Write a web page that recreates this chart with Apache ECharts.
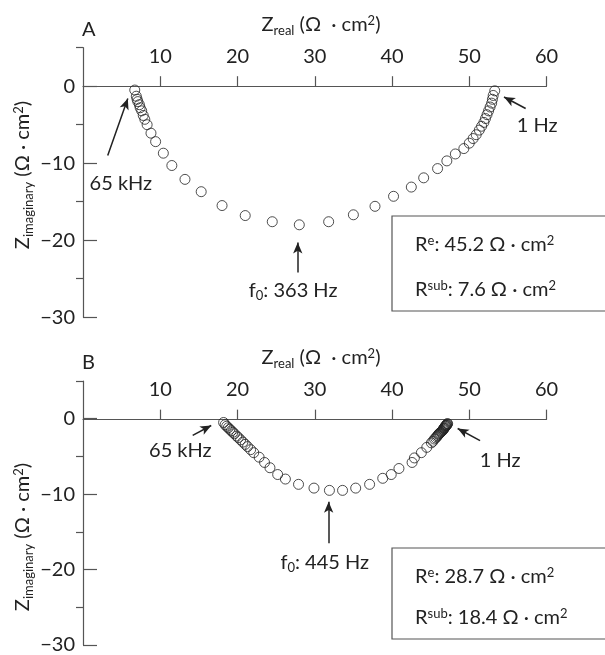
<!DOCTYPE html>
<html>
<head>
<meta charset="utf-8">
<script src="https://cdn.jsdelivr.net/npm/echarts@6/dist/echarts.min.js"></script>
<style>
  html, body { margin: 0; padding: 0; background: #fff; }
  #chart { width: 605px; height: 655px; }
</style>
</head>
<body>
<div id="chart"></div>
<script>
// panel A: Nyquist points [Zreal, Zimag]
var pointsA = [[6.7,-0.5],[6.9,-1.3],[7.0,-1.7],[7.1,-2.0],[7.3,-2.4],[7.4,-2.8],[7.6,-3.2],[7.8,-3.8],[8.0,-4.3],[8.3,-5.0],[8.8,-6.1],[9.4,-7.2],[10.4,-8.7],[11.5,-10.3],[13.2,-12.1],[15.3,-13.7],[18.0,-15.5],[21.0,-16.8],[24.5,-17.6],[28.0,-18.0],[31.8,-17.6],[35.0,-16.7],[37.8,-15.6],[40.2,-14.3],[42.5,-13.1],[44.1,-11.9],[45.9,-10.7],[47.1,-9.7],[48.2,-8.8],[49.3,-8.1],[50.0,-7.4],[50.5,-6.8],[50.9,-6.3],[51.3,-5.7],[51.6,-5.2],[51.9,-4.7],[52.1,-4.2],[52.3,-3.7],[52.5,-3.2],[52.7,-2.7],[52.9,-2.2],[53.0,-1.7],[53.1,-1.2],[53.3,-0.6]];
// panel B
var pointsB = [[18.2,-0.5],[18.4,-0.8],[18.6,-1.0],[18.8,-1.2],[19.0,-1.4],[19.2,-1.6],[19.4,-1.8],[19.6,-2.0],[19.9,-2.3],[20.1,-2.5],[20.4,-2.8],[20.7,-3.1],[21.0,-3.4],[21.3,-3.7],[21.7,-4.1],[22.1,-4.5],[22.8,-5.1],[23.5,-5.8],[24.2,-6.5],[25.2,-7.4],[26.2,-8.0],[27.9,-8.7],[29.9,-9.2],[31.9,-9.5],[33.6,-9.5],[35.3,-9.2],[37.1,-8.7],[38.8,-7.9],[39.9,-7.4],[40.9,-6.6],[42.6,-5.8],[42.9,-5.2],[43.8,-4.5],[44.5,-3.8],[45.1,-3.2],[45.3,-3.0],[45.5,-2.7],[45.65,-2.55],[45.8,-2.4],[45.9,-2.25],[46.0,-2.1],[46.1,-2.0],[46.2,-1.9],[46.3,-1.8],[46.4,-1.7],[46.5,-1.6],[46.6,-1.5],[46.65,-1.4],[46.7,-1.3],[46.75,-1.25],[46.8,-1.2],[46.85,-1.1],[46.9,-1.0],[46.95,-0.95],[47.0,-0.9],[47.05,-0.85],[47.1,-0.8],[47.15,-0.7],[47.2,-0.65]];

var xTicks = [10, 20, 30, 40, 50, 60];
var yMajor = [-30, -20, -10, 0];
var yMinor = [-25, -15, -5, 5];

// annotation labels & arrows in data coords
var arrowsA = [[[3.2,-9.0],[5.8,-1.6]], [[57.3,-2.9],[54.5,-1.4]], [[27.8,-24.2],[27.8,-20.3]]];
var labelsA = [[4.9,-12.6,'65 kHz'], [58.8,-5.1,'1 Hz'], [27.2,-26.5,'f{sub|0}: 363 Hz']];
var arrowsB = [[[14.2,-2.2],[16.6,-0.9]], [[51.4,-2.9],[48.5,-1.3]], [[31.8,-16.5],[31.8,-11.0]]];
var labelsB = [[12.6,-4.2,'65 kHz'], [54.0,-5.6,'1 Hz'], [31.3,-19.1,'f{sub|0}: 445 Hz']];
var boxA = ['R{sup|e}: 45.2 Ω · cm{sup|2}', 'R{sup|sub}: 7.6 Ω · cm{sup|2}'];
var boxB = ['R{sup|e}: 28.7 Ω · cm{sup|2}', 'R{sup|sub}: 18.4 Ω · cm{sup|2}'];

var ink = '#222';
var font = 'Lato, "DejaVu Sans", sans-serif';
var fs = 20;
var rich = {
    sub: { fontSize: 13, fontFamily: font, color: ink, padding: [11, 0, 0, 0] },
    sup: { fontSize: 13, fontFamily: font, color: ink, padding: [0, 0, 9, 0] }
};

function minus(v) { return String(v).replace('-', '\u2212'); }

var grids = [
    { left: 83, top: 47.7, width: 463.5, height: 269.5 },
    { left: 83, top: 381, width: 463.5, height: 270.5 }
];
// distance from grid top (y = 5) down to the y = 0 line
var zeroOffset = [269.5 / 35 * 5, 270.5 / 35 * 5];

var xAxes = [], yAxes = [], series = [];
[0, 1].forEach(function (i) {
    xAxes.push({
        type: 'value', gridIndex: i, min: 0, max: 60, interval: 10, position: 'top',
        offset: -zeroOffset[i],
        axisLine: { onZero: false, lineStyle: { color: '#555', width: 1.2 } },
        axisTick: { customValues: xTicks, length: 10, lineStyle: { color: '#555', width: 1.2 } },
        axisLabel: { customValues: xTicks, margin: 20, fontSize: fs, fontFamily: font, color: ink },
        splitLine: { show: false }
    });
    yAxes.push({
        type: 'value', gridIndex: i, min: -30, max: 5, interval: 5,
        axisLine: { show: true, onZero: false, lineStyle: { color: '#555', width: 1.2 } },
        axisTick: { inside: true, customValues: yMajor, length: 14, lineStyle: { color: '#555', width: 1.2 } },
        axisLabel: { customValues: yMajor, margin: 8, fontSize: fs, fontFamily: font, color: ink, formatter: minus },
        splitLine: { show: false }
    });
    // minor ticks only
    yAxes.push({
        type: 'value', gridIndex: i, min: -30, max: 5, interval: 5,
        axisLine: { show: false },
        axisTick: { inside: true, customValues: yMinor, length: 7, lineStyle: { color: '#555', width: 1.2 } },
        axisLabel: { show: false },
        splitLine: { show: false }
    });
});

function makeSeries(i, pts, arrows, labels) {
    return {
        type: 'scatter', xAxisIndex: i, yAxisIndex: i * 2, data: pts,
        symbol: 'circle', symbolSize: 10,
        itemStyle: { color: 'rgba(0,0,0,0)', borderColor: ink, borderWidth: 1 },
        markLine: {
            silent: true, symbol: ['none', 'arrow'], symbolSize: [7, 11],
            lineStyle: { color: ink, width: 1.5, type: 'solid' },
            label: { show: false },
            data: arrows.map(function (a) { return [{ coord: a[0] }, { coord: a[1] }]; })
        },
        markPoint: {
            silent: true, symbol: 'rect', symbolSize: 0,
            label: { show: true, position: 'inside', fontSize: fs, fontFamily: font, color: ink, rich: rich },
            data: labels.map(function (l) { return { coord: [l[0], l[1]], value: l[2], label: { formatter: l[2] } }; })
        }
    };
}
series.push(makeSeries(0, pointsA, arrowsA, labelsA));
series.push(makeSeries(1, pointsB, arrowsB, labelsB));

var titleStyle = { fontSize: fs, fontFamily: font, fill: ink, rich: rich };
function txt(x, y, s, align) {
    return { type: 'text', x: x, y: y,
        style: Object.assign({ text: s, align: align || 'left', verticalAlign: 'middle' }, titleStyle) };
}
function vtxt(x, y, s) {
    var t = txt(x, y, s, 'center');
    t.rotation = Math.PI / 2;
    return t;
}

var graphic = [
    txt(82, 30, 'A'), txt(82, 363, 'B'),
    txt(321, 25, 'Z{sub|real} (Ω  · cm{sup|2})', 'center'),
    txt(321, 358, 'Z{sub|real} (Ω  · cm{sup|2})', 'center'),
    vtxt(23, 175, 'Z{sub|imaginary} (Ω · cm{sup|2})'),
    vtxt(23, 537, 'Z{sub|imaginary} (Ω · cm{sup|2})'),
    { type: 'rect', shape: { x: 392, y: 216, width: 230, height: 95 }, style: { fill: '#fff', stroke: '#555', lineWidth: 1.2 } },
    { type: 'rect', shape: { x: 392, y: 548, width: 230, height: 91 }, style: { fill: '#fff', stroke: '#555', lineWidth: 1.2 } },
    txt(415, 245, boxA[0]), txt(415, 290, boxA[1]),
    txt(415, 577, boxB[0]), txt(415, 618, boxB[1])
];

var myChart = echarts.init(document.getElementById('chart'));
myChart.setOption({
    animation: false,
    backgroundColor: '#fff',
    grid: grids,
    xAxis: xAxes,
    yAxis: yAxes,
    series: series,
    graphic: graphic
});
</script>
</body>
</html>
